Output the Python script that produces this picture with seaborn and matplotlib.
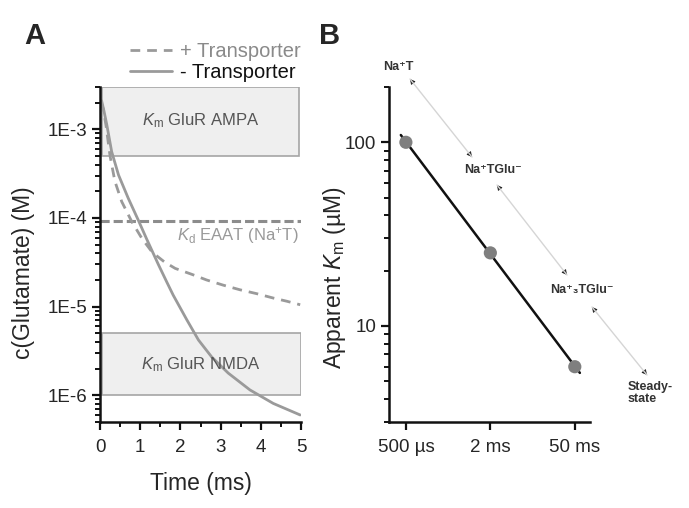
import numpy as np
import pandas as pd
import matplotlib
matplotlib.use("Agg")
import matplotlib.pyplot as plt
import seaborn as sns
from matplotlib.patches import Rectangle, FancyArrowPatch
from matplotlib.ticker import FixedLocator, FixedFormatter, LogLocator, NullFormatter, MultipleLocator

# Panel A: glutamate concentration after release
time_no_tr = [0.0, 0.04, 0.1, 0.17, 0.29, 0.46, 0.70, 0.95, 1.16, 1.45, 1.66,
              1.82, 2.16, 2.45, 2.78, 3.19, 3.73, 4.31, 4.98]
conc_no_tr = [1.9e-3, 2.1e-3, 1.6e-3, 1.12e-3, 5.6e-4, 3.06e-4, 1.68e-4, 9.5e-5,
              5.8e-5, 3.0e-5, 1.9e-5, 1.35e-5, 7.1e-6, 4.2e-6, 2.7e-6, 1.78e-6,
              1.15e-6, 8.1e-7, 6.0e-7]
time_tr = [0.0, 0.03, 0.08, 0.15, 0.25, 0.37, 0.54, 0.79, 1.04, 1.3, 1.6, 1.87,
           2.3, 2.65, 3.06, 3.48, 3.9, 4.31, 4.65, 4.98]
conc_tr = [1.9e-3, 1.95e-3, 1.7e-3, 1.1e-3, 5.0e-4, 2.6e-4, 1.53e-4, 9.1e-5,
           5.9e-5, 4.1e-5, 3.2e-5, 2.7e-5, 2.3e-5, 2.0e-5, 1.75e-5, 1.55e-5,
           1.4e-5, 1.25e-5, 1.15e-5, 1.05e-5]
kd_eaat = 9.3e-5
ampa_range = (5e-4, 3e-3)
nmda_range = (1e-6, 5e-6)
a_yticks = [1e-6, 1e-5, 1e-4, 1e-3]
a_yticklabels = ["1E-6", "1E-5", "1E-4", "1E-3"]

# Panel B: apparent Km vs. time window
b_labels = ["500 µs", "2 ms", "50 ms"]
b_km = [100, 25, 6]
b_yticks = [10, 100]
b_yticklabels = ["10", "100"]
states = ["Na⁺T", "Na⁺TGlu⁻", "Na⁺₃TGlu⁻", "Steady-\nstate"]

W, H = 689, 508

sns.set_theme(style="ticks")
plt.rcParams['font.family'] = ['Liberation Sans', 'DejaVu Sans']
plt.rcParams['mathtext.fontset'] = 'custom'
plt.rcParams['mathtext.rm'] = 'Liberation Sans'
plt.rcParams['mathtext.it'] = 'Liberation Sans:italic'

fig = plt.figure(figsize=(W / 100, H / 100), dpi=100)


def px(x, y):
    """pixel position (from top-left) -> figure fraction"""
    return x / W, 1 - y / H


axA = fig.add_axes([100 / W, 1 - 422 / H, 201 / W, 335 / H])
axB = fig.add_axes([389 / W, 1 - 422 / H, 201 / W, 335 / H])

# ---- Panel A ----
grey = "#9a9a9a"
df_no = pd.DataFrame({"t": time_no_tr, "c": conc_no_tr})
df_tr = pd.DataFrame({"t": time_tr, "c": conc_tr})

axA.add_patch(Rectangle((0.05, ampa_range[0]), 4.9, ampa_range[1] - ampa_range[0],
                        facecolor="#efefef", edgecolor="#a5a5a5", lw=1.2, zorder=0))
axA.add_patch(Rectangle((0.05, nmda_range[0]), 4.95, nmda_range[1] - nmda_range[0],
                        facecolor="#efefef", edgecolor="#a5a5a5", lw=1.2, zorder=0))
axA.axhline(kd_eaat, color="#8c8c8c", lw=2.2, dashes=(3, 1.3), zorder=1)

sns.lineplot(data=df_tr, x="t", y="c", ax=axA, color=grey, lw=2,
             label="+ Transporter", zorder=2)
axA.lines[-1].set_dashes((3.5, 2.5))
sns.lineplot(data=df_no, x="t", y="c", ax=axA, color=grey, lw=2,
             label="- Transporter", zorder=2)

axA.set_yscale("log")
axA.set_ylim(5e-7, 3e-3)
axA.set_xlim(0, 5)
axA.yaxis.set_major_locator(FixedLocator(a_yticks))
axA.yaxis.set_major_formatter(FixedFormatter(a_yticklabels))
axA.yaxis.set_minor_locator(LogLocator(base=10, subs=np.arange(2, 10)))
axA.yaxis.set_minor_formatter(NullFormatter())
axA.xaxis.set_major_locator(MultipleLocator(1))
axA.xaxis.set_minor_locator(MultipleLocator(0.5))

axA.text(2.5, 1.25e-3, r"$K_\mathrm{m}$ GluR AMPA", ha="center", va="center",
         fontsize=12, color="#555555")
axA.text(4.95, 6.3e-5, r"$K_\mathrm{d}$ EAAT (Na$^{+}$T)", ha="right", va="center",
         fontsize=12, color="#999999")
axA.text(2.5, 2.2e-6, r"$K_\mathrm{m}$ GluR NMDA", ha="center", va="center",
         fontsize=12, color="#555555")

axA.set_xlabel("Time (ms)", fontsize=16.5, labelpad=12)
axA.set_ylabel("c(Glutamate) (M)", fontsize=16.5)
axA.yaxis.set_label_coords(-0.325, 0.445)

leg = axA.legend(loc="lower right", bbox_to_anchor=(1.04, 0.99), frameon=False,
                 fontsize=14.5, handlelength=2.1, handletextpad=0.4,
                 labelspacing=0.1, borderaxespad=0)
leg.get_texts()[0].set_color("#8a8a8a")
leg.get_texts()[1].set_color("#111111")

# ---- Panel B ----
pos = np.arange(len(b_labels))
coef = np.polyfit(pos, np.log10(b_km), 1)
fit_x = np.array([-0.06, pos[-1] + 0.06])
df_fit = pd.DataFrame({"x": fit_x, "y": 10 ** np.polyval(coef, fit_x)})
df_b = pd.DataFrame({"x": pos, "km": b_km})

sns.lineplot(data=df_fit, x="x", y="y", ax=axB, color="#111111", lw=1.8, zorder=2)
sns.scatterplot(data=df_b, x="x", y="km", ax=axB, color="#7f7f7f", s=90,
                edgecolor="none", zorder=3)

axB.set_yscale("log")
axB.set_ylim(3, 200)
axB.set_xlim(-0.2, 2.18)
axB.set_xticks(pos)
axB.set_xticklabels(b_labels)
axB.yaxis.set_major_locator(FixedLocator(b_yticks))
axB.yaxis.set_major_formatter(FixedFormatter(b_yticklabels))
axB.yaxis.set_minor_locator(LogLocator(base=10, subs=np.arange(2, 10)))
axB.yaxis.set_minor_formatter(NullFormatter())
axB.set_xlabel("")
axB.set_ylabel(r"Apparent $K_\mathrm{m}$ (µM)", fontsize=16.5)
axB.yaxis.set_label_coords(-0.205, 0.43)

for ax in (axA, axB):
    sns.despine(ax=ax)
    for s in ("left", "bottom"):
        ax.spines[s].set_linewidth(1.8)
        ax.spines[s].set_color("#111111")
    ax.tick_params(which="major", length=6, width=1.6, labelsize=13.5, color="#111111",
                   pad=3)
    ax.tick_params(which="minor", length=3.5, width=1.4, color="#111111")
    ax.tick_params(axis="x", which="major", pad=6)

# state transition arrows (light grey with small dark heads)
arrows = [((410, 79), (472, 157)), ((497, 185), (567, 275)), ((592, 307), (647, 375))]
for (x0, y0), (x1, y1) in arrows:
    fig.add_artist(plt.Line2D([x0 / W, x1 / W], [1 - y0 / H, 1 - y1 / H],
                              color="#d5d5d5", lw=1.0))
    dx, dy = (x1 - x0), (y1 - y0)
    n = np.hypot(dx, dy)
    ux, uy = dx / n * 4, dy / n * 4
    for (hx, hy), sgn in (((x0, y0), -1), ((x1, y1), 1)):
        fig.add_artist(FancyArrowPatch(
            px(hx - sgn * ux, hy - sgn * uy), px(hx, hy), transform=fig.transFigure,
            arrowstyle="-|>,head_length=3,head_width=1.6", color="#222222",
            lw=0.6, mutation_scale=1))

state_pos = [(398, 67, "center"), (493, 170, "center"), (582, 290, "center"),
             (628, 393, "left")]
for (x, y, ha), lab in zip(state_pos, states):
    fig.text(*px(x, y), lab, ha=ha, va="center", fontsize=9, fontweight="bold",
             color="#333333", linespacing=1.1)

fig.text(*px(35, 36), "A", ha="center", va="center", fontsize=21, fontweight="bold")
fig.text(*px(330, 36), "B", ha="center", va="center", fontsize=21, fontweight="bold")

fig.savefig("out.png", dpi=100)
